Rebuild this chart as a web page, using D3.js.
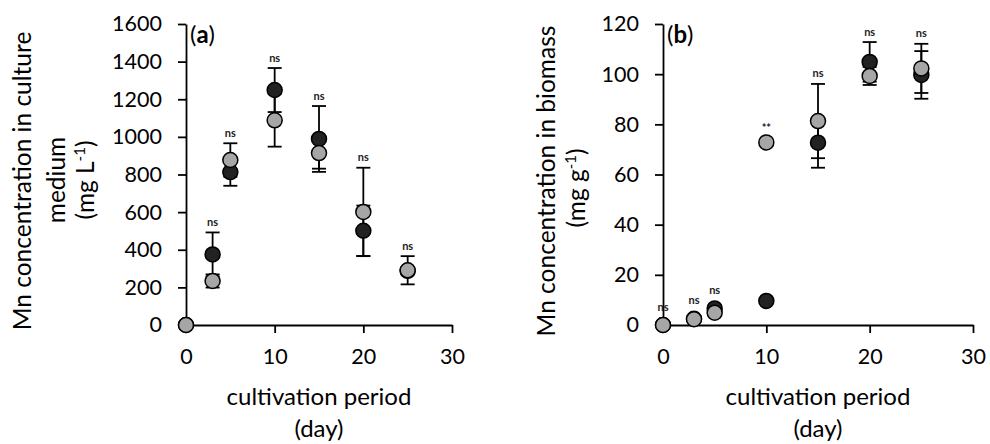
<!DOCTYPE html>
<html>
<head>
<meta charset="utf-8">
<script src="https://cdnjs.cloudflare.com/ajax/libs/d3/7.8.5/d3.min.js"></script>
<style>
  body { margin: 0; background: #fff; }
  svg text { font-family: Lato, "Open Sans", sans-serif; }
</style>
</head>
<body>
<div id="chart"></div>
<script>
// sampling days shared by both panels
var days = [0, 3, 5, 10, 15, 20, 25];

// (a) Mn in culture medium, mg/L
var medium_dark = [0, 375, 813, 1249, 989, 501, 288],
    medium_dark_err = [0, 117, 73, 117, 175, 134, 20],
    medium_gray = [0, 234, 877, 1088, 914, 601, 291],
    medium_gray_err = [0, 35, 89, 140, 83, 235, 75],
    medium_sig = ["", "ns", "ns", "ns", "ns", "ns", "ns"];

// (b) Mn in biomass, mg/g
var biomass_dark = [0, 2.5, 6.6, 9.6, 72.7, 104.9, 99.7],
    biomass_dark_err = [0, 0.5, 0.8, 0.5, 10, 7.9, 9.5],
    biomass_gray = [0, 2.3, 4.9, 72.8, 81.3, 99.3, 102.3],
    biomass_gray_err = [0, 0.5, 0.6, 0.5, 14.8, 3.6, 9.8],
    biomass_sig = ["ns", "ns", "ns", "**", "ns", "ns", "ns"];

var x_ticks = [0, 10, 20, 30],
    medium_ticks = [0, 200, 400, 600, 800, 1000, 1200, 1400, 1600],
    biomass_ticks = [0, 20, 40, 60, 80, 100, 120];

var dark_color = "#222222",
    gray_color = "#a6a6a6",
    r = 7.5,
    cap = 7;

var svg = d3.select("#chart").append("svg")
  .attr("width", 990)
  .attr("height", 444);

function drawPanel(opt) {
  var x = d3.scaleLinear().domain([0, 30]).range([opt.left, opt.right]);
  var y = d3.scaleLinear().domain(opt.ydomain).range([325, 24]);
  var g = svg.append("g");

  var xAxis = g.append("g")
    .attr("transform", "translate(0," + y(0) + ")")
    .call(d3.axisBottom(x).tickValues(x_ticks).tickFormat(d3.format("d"))
      .tickSize(8).tickSizeOuter(0).tickPadding(16));
  var yAxis = g.append("g")
    .attr("transform", "translate(" + x(0) + ",0)")
    .call(d3.axisLeft(y).tickValues(opt.yticks).tickFormat(d3.format("d"))
      .tickSize(8).tickSizeOuter(0).tickPadding(16));

  [xAxis, yAxis].forEach(function(a) {
    a.selectAll("path, line").attr("stroke", "#000").attr("stroke-width", 1.8);
    a.selectAll("text").attr("fill", "#000").style("font-size", "21.5px");
  });

  // error bars first, then dark, then gray on top
  var series = [
    {v: opt.dark, e: opt.dark_err, fill: dark_color},
    {v: opt.gray, e: opt.gray_err, fill: gray_color}
  ];
  series.forEach(function(s) {
    var bars = g.append("g").selectAll("g")
      .data(days.map(function(d, i) { return {day: d, v: s.v[i], e: s.e[i]}; }))
      .enter().append("g")
      .attr("stroke", "#000").attr("stroke-width", 1.8);
    bars.append("line")
      .attr("x1", function(d) { return x(d.day); })
      .attr("x2", function(d) { return x(d.day); })
      .attr("y1", function(d) { return y(d.v - d.e); })
      .attr("y2", function(d) { return y(d.v + d.e); });
    bars.append("line")
      .attr("x1", function(d) { return x(d.day) - cap; })
      .attr("x2", function(d) { return x(d.day) + cap; })
      .attr("y1", function(d) { return y(d.v + d.e); })
      .attr("y2", function(d) { return y(d.v + d.e); });
    bars.append("line")
      .attr("x1", function(d) { return x(d.day) - cap; })
      .attr("x2", function(d) { return x(d.day) + cap; })
      .attr("y1", function(d) { return y(d.v - d.e); })
      .attr("y2", function(d) { return y(d.v - d.e); });
  });
  series.forEach(function(s) {
    g.append("g").selectAll("circle")
      .data(days.map(function(d, i) { return {day: d, v: s.v[i]}; }))
      .enter().append("circle")
      .attr("cx", function(d) { return x(d.day); })
      .attr("cy", function(d) { return y(d.v); })
      .attr("r", r)
      .attr("fill", s.fill)
      .attr("stroke", "#000")
      .attr("stroke-width", 1.5);
  });

  // significance labels above the highest bar / point
  g.append("g").selectAll("text")
    .data(days.map(function(d, i) {
      var top = Math.max(opt.dark[i] + opt.dark_err[i], opt.gray[i] + opt.gray_err[i]);
      var pt = Math.max(opt.dark[i], opt.gray[i]);
      return {day: d, label: opt.sig[i], yy: Math.min(y(top) - 11, y(pt) - 19)};
    }))
    .enter().append("text")
    .attr("x", function(d) { return x(d.day); })
    .attr("y", function(d) { return d.label === "**" ? d.yy + 4 : d.yy; })
    .attr("text-anchor", "middle")
    .attr("dominant-baseline", "central")
    .style("font-size", "11px")
    .style("font-weight", "bold")
    .attr("fill", "#222")
    .text(function(d) { return d.label; });

  // panel letter
  var lab = g.append("text")
    .attr("x", x(0) + 4)
    .attr("y", 43)
    .style("font-size", "24px");
  lab.append("tspan").text("(");
  lab.append("tspan").style("font-weight", "bold").text(opt.letter);
  lab.append("tspan").text(")");

  // x title
  var cx = (opt.left + opt.right) / 2;
  g.append("text").attr("x", cx).attr("y", 405).attr("text-anchor", "middle")
    .style("font-size", "24px").text("cultivation period");
  g.append("text").attr("x", cx).attr("y", 437).attr("text-anchor", "middle")
    .style("font-size", "24px").text("(day)");

  // y title lines
  opt.ytitle.forEach(function(t) {
    var txt = g.append("text")
      .attr("transform", "translate(" + t.x + "," + t.y + ") rotate(-90)")
      .attr("text-anchor", "middle")
      .style("font-size", "24.5px");
    txt.append("tspan").text(t.text);
    if (t.sup) {
      txt.append("tspan").attr("dy", -9).style("font-size", "15px").text(t.sup);
      txt.append("tspan").attr("dy", 9).text(")");
    }
  });
}

drawPanel({
  left: 186, right: 452, ydomain: [0, 1600], yticks: medium_ticks,
  dark: medium_dark, dark_err: medium_dark_err,
  gray: medium_gray, gray_err: medium_gray_err,
  sig: medium_sig, letter: "a",
  ytitle: [
    {x: 31, y: 181, text: "Mn concentration in culture"},
    {x: 65, y: 180, text: "medium"},
    {x: 94, y: 180, text: "(mg L", sup: "-1"}
  ]
});

drawPanel({
  left: 663, right: 973, ydomain: [0, 120], yticks: biomass_ticks,
  dark: biomass_dark, dark_err: biomass_dark_err,
  gray: biomass_gray, gray_err: biomass_gray_err,
  sig: biomass_sig, letter: "b",
  ytitle: [
    {x: 555, y: 181, text: "Mn concentration in biomass"},
    {x: 585, y: 188, text: "(mg g", sup: "-1"}
  ]
});
</script>
</body>
</html>
